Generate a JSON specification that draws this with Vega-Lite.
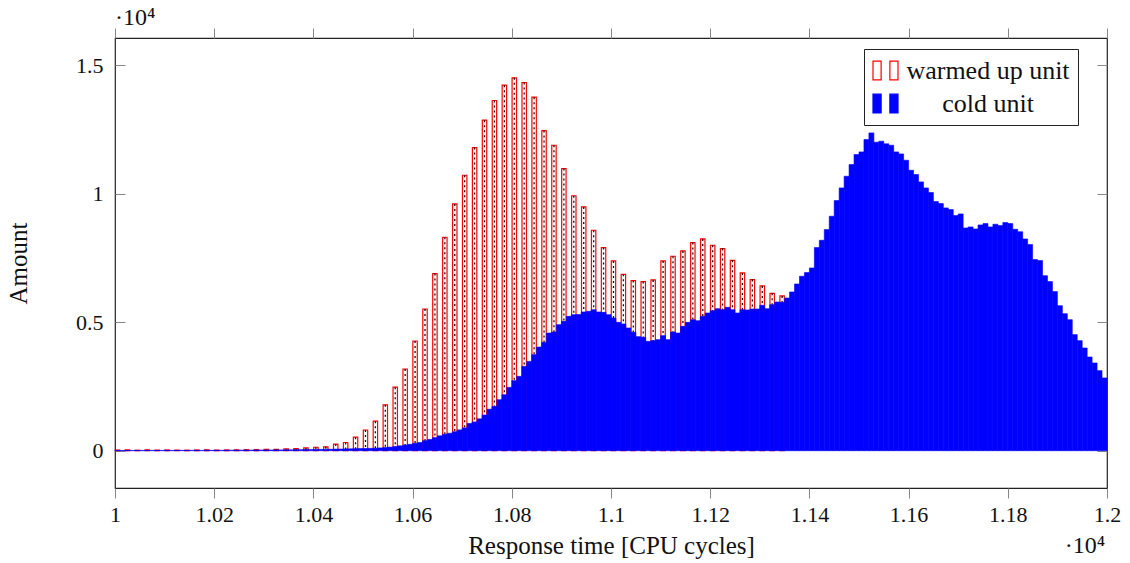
{
  "$schema": "https://vega.github.io/schema/vega-lite/v6.json",
  "width": 992,
  "height": 450,
  "autosize": {"type": "none"},
  "padding": {"left": 115, "top": 38, "right": 23, "bottom": 75},
  "background": "white",
  "config": {
    "view": {"stroke": "#222", "strokeWidth": 1.2},
    "font": "Liberation Serif",
    "axis": {"labelFont": "Liberation Serif", "titleFont": "Liberation Serif", "labelColor": "#111", "titleColor": "#111", "titleFontWeight": "normal", "tickColor": "#888", "tickWidth": 1, "domain": false, "grid": false}
  },
  "datasets": {
    "warm": [
      {"x":10005,"v":25},{"x":10025,"v":30},{"x":10045,"v":20},{"x":10065,"v":35},{"x":10085,"v":25},
      {"x":10105,"v":30},{"x":10125,"v":25},{"x":10145,"v":20},{"x":10165,"v":30},{"x":10185,"v":35},
      {"x":10205,"v":25},{"x":10225,"v":30},{"x":10245,"v":35},{"x":10265,"v":40},{"x":10285,"v":45},
      {"x":10305,"v":52},{"x":10325,"v":55},{"x":10345,"v":70},{"x":10365,"v":78},{"x":10385,"v":110},
      {"x":10405,"v":135},{"x":10425,"v":150},{"x":10445,"v":260},{"x":10465,"v":320},{"x":10485,"v":525},
      {"x":10505,"v":805},{"x":10525,"v":1150},{"x":10545,"v":1785},{"x":10565,"v":2470},{"x":10585,"v":3178},
      {"x":10605,"v":4267},{"x":10625,"v":5512},{"x":10645,"v":6887},{"x":10665,"v":8301},{"x":10685,"v":9598},
      {"x":10705,"v":10713},{"x":10725,"v":11790},{"x":10745,"v":12853},{"x":10765,"v":13619},{"x":10785,"v":14215},
      {"x":10805,"v":14500},{"x":10825,"v":14319},{"x":10845,"v":13748},{"x":10865,"v":12451},{"x":10885,"v":11880},
      {"x":10905,"v":10973},{"x":10925,"v":9915},{"x":10945,"v":9481},{"x":10965,"v":8573},{"x":10985,"v":7899},
      {"x":11005,"v":7380},{"x":11025,"v":6861},{"x":11045,"v":6615},{"x":11065,"v":6576},{"x":11085,"v":6641},
      {"x":11105,"v":7380},{"x":11125,"v":7562},{"x":11145,"v":7769},{"x":11165,"v":8093},{"x":11185,"v":8236},
      {"x":11205,"v":7990},{"x":11225,"v":7860},{"x":11245,"v":7405},{"x":11265,"v":6913},{"x":11285,"v":6654},
      {"x":11305,"v":6407},{"x":11325,"v":6122},{"x":11345,"v":6018}
    ],
    "cold": [
      {"x":10005,"v":15},{"x":10015,"v":10},{"x":10025,"v":12},{"x":10035,"v":8},{"x":10045,"v":10},
      {"x":10055,"v":12},{"x":10065,"v":10},{"x":10075,"v":14},{"x":10085,"v":10},{"x":10095,"v":12},
      {"x":10105,"v":15},{"x":10115,"v":12},{"x":10125,"v":10},{"x":10135,"v":14},{"x":10145,"v":12},
      {"x":10155,"v":15},{"x":10165,"v":14},{"x":10175,"v":12},{"x":10185,"v":16},{"x":10195,"v":15},
      {"x":10205,"v":18},{"x":10215,"v":15},{"x":10225,"v":18},{"x":10235,"v":20},{"x":10245,"v":18},
      {"x":10255,"v":22},{"x":10265,"v":20},{"x":10275,"v":24},{"x":10285,"v":22},{"x":10295,"v":26},
      {"x":10305,"v":25},{"x":10315,"v":28},{"x":10325,"v":30},{"x":10335,"v":30},{"x":10345,"v":33},
      {"x":10355,"v":35},{"x":10365,"v":38},{"x":10375,"v":40},{"x":10385,"v":42},{"x":10395,"v":45},
      {"x":10405,"v":48},{"x":10415,"v":50},{"x":10425,"v":55},{"x":10435,"v":58},{"x":10445,"v":62},
      {"x":10455,"v":66},{"x":10465,"v":70},{"x":10475,"v":74},{"x":10485,"v":78},{"x":10495,"v":84},
      {"x":10505,"v":88},{"x":10515,"v":92},{"x":10525,"v":98},{"x":10535,"v":108},{"x":10545,"v":125},
      {"x":10555,"v":140},{"x":10565,"v":165},{"x":10575,"v":190},{"x":10585,"v":220},{"x":10595,"v":250},
      {"x":10605,"v":290},{"x":10615,"v":320},{"x":10625,"v":390},{"x":10635,"v":440},{"x":10645,"v":510},
      {"x":10655,"v":580},{"x":10665,"v":640},{"x":10675,"v":680},{"x":10685,"v":740},{"x":10695,"v":810},
      {"x":10705,"v":890},{"x":10715,"v":1060},{"x":10725,"v":1120},{"x":10735,"v":1240},{"x":10745,"v":1390},
      {"x":10755,"v":1615},{"x":10765,"v":1725},{"x":10775,"v":1984},{"x":10785,"v":2179},{"x":10795,"v":2464},
      {"x":10805,"v":2724},{"x":10815,"v":2892},{"x":10825,"v":3281},{"x":10835,"v":3475},{"x":10845,"v":3735},
      {"x":10855,"v":4034},{"x":10865,"v":4215},{"x":10875,"v":4578},{"x":10885,"v":4617},{"x":10895,"v":4903},
      {"x":10905,"v":5031},{"x":10915,"v":5226},{"x":10925,"v":5292},{"x":10935,"v":5300},{"x":10945,"v":5396},
      {"x":10955,"v":5420},{"x":10965,"v":5486},{"x":10975,"v":5396},{"x":10985,"v":5381},{"x":10995,"v":5292},
      {"x":11005,"v":5163},{"x":11015,"v":4993},{"x":11025,"v":4929},{"x":11035,"v":4774},{"x":11045,"v":4604},
      {"x":11055,"v":4436},{"x":11065,"v":4410},{"x":11075,"v":4254},{"x":11085,"v":4280},{"x":11095,"v":4319},
      {"x":11105,"v":4475},{"x":11115,"v":4319},{"x":11125,"v":4618},{"x":11135,"v":4578},{"x":11145,"v":4837},
      {"x":11155,"v":4993},{"x":11165,"v":5097},{"x":11175,"v":5058},{"x":11185,"v":5226},{"x":11195,"v":5357},
      {"x":11205,"v":5447},{"x":11215,"v":5525},{"x":11225,"v":5486},{"x":11235,"v":5577},{"x":11245,"v":5486},
      {"x":11255,"v":5357},{"x":11265,"v":5486},{"x":11275,"v":5473},{"x":11285,"v":5512},{"x":11295,"v":5512},
      {"x":11305,"v":5655},{"x":11315,"v":5525},{"x":11325,"v":5681},{"x":11335,"v":5785},{"x":11345,"v":5772},
      {"x":11355,"v":5940},{"x":11365,"v":6174},{"x":11375,"v":6485},{"x":11385,"v":6783},{"x":11395,"v":6926},
      {"x":11405,"v":7108},{"x":11415,"v":7900},{"x":11425,"v":8184},{"x":11435,"v":8599},{"x":11445,"v":9118},
      {"x":11455,"v":9728},{"x":11465,"v":10221},{"x":11475,"v":10674},{"x":11485,"v":11128},{"x":11495,"v":11518},
      {"x":11505,"v":11621},{"x":11515,"v":12101},{"x":11525,"v":12360},{"x":11535,"v":11997},{"x":11545,"v":12036},
      {"x":11555,"v":11933},{"x":11565,"v":11880},{"x":11575,"v":11621},{"x":11585,"v":11543},{"x":11595,"v":11297},
      {"x":11605,"v":10907},{"x":11615,"v":10739},{"x":11625,"v":10454},{"x":11635,"v":10221},{"x":11645,"v":10040},
      {"x":11655,"v":9689},{"x":11665,"v":9611},{"x":11675,"v":9443},{"x":11685,"v":9377},{"x":11695,"v":9144},
      {"x":11705,"v":9209},{"x":11715,"v":8664},{"x":11725,"v":8703},{"x":11735,"v":8625},{"x":11745,"v":8781},
      {"x":11755,"v":8833},{"x":11765,"v":8703},{"x":11775,"v":8807},{"x":11785,"v":8755},{"x":11795,"v":8872},
      {"x":11805,"v":8833},{"x":11815,"v":8610},{"x":11825,"v":8515},{"x":11835,"v":8236},{"x":11845,"v":8016},
      {"x":11855,"v":7432},{"x":11865,"v":7393},{"x":11875,"v":6809},{"x":11885,"v":6576},{"x":11895,"v":6187},
      {"x":11905,"v":5642},{"x":11915,"v":5331},{"x":11925,"v":5097},{"x":11935,"v":4514},{"x":11945,"v":4280},
      {"x":11955,"v":3995},{"x":11965,"v":3645},{"x":11975,"v":3412},{"x":11985,"v":3113},{"x":11995,"v":2829}
    ]
  },
  "resolve": {"axis": {"x": "independent", "y": "independent"}},
  "layer": [
    {
      "data": {"name": "warm"},
      "mark": {"type": "bar", "orient": "vertical", "width": 4.4, "strokeWidth": 1.2},
      "encoding": {
        "x": {"field": "x", "type": "quantitative",
              "scale": {"domain": [10000, 12000], "nice": false, "zero": false, "padding": 0},
              "axis": {"orient": "bottom", "values": [10000,10200,10400,10600,10800,11000,11200,11400,11600,11800,12000],
                       "labelExpr": "format(datum.value/10000, '~g')", "labelFontSize": 22, "tickSize": 10, "labelPadding": 6,
                       "title": "Response time [CPU cycles]", "titleFontSize": 25, "titlePadding": 8, "labelFlush": false}},
        "y": {"field": "v", "type": "quantitative",
              "scale": {"domain": [-1450, 16050], "nice": false, "zero": false, "padding": 0},
              "axis": {"orient": "left", "values": [0, 5000, 10000, 15000],
                       "labelExpr": "format(datum.value/10000, '~g')", "labelFontSize": 22, "tickSize": -10, "labelPadding": 22,
                       "title": "Amount", "titleFontSize": 25, "titlePadding": 44}},
        "y2": {"datum": 0},
        "fill": {"datum": "warmed up unit", "type": "nominal",
                 "scale": {"domain": ["warmed up unit", "cold unit"], "range": ["white", "#0000ff"]},
                 "legend": {"orient": "none", "legendX": 749, "legendY": 11, "title": null,
                            "symbolType": "M-1,-0.75H-0.35V0.75H-1Z M0.35,-0.75H1V0.75H0.35Z",
                            "symbolSize": 625, "symbolStrokeWidth": 1.2,
                            "labelFont": "Liberation Serif", "labelFontSize": 26, "labelColor": "#111",
                            "labelAlign": "center", "labelOffset": 89, "labelLimit": 300,
                            "strokeColor": "#222", "fillColor": "white", "padding": 8, "rowPadding": 6,
                            "encode": {"symbols": {"update": {"stroke": {"signal": "datum.value === 'cold unit' ? '#0000ff' : '#ff0000'"}}}}}},
        "stroke": {"datum": "warmed up unit", "type": "nominal",
                   "scale": {"domain": ["warmed up unit", "cold unit"], "range": ["#ff0000", "#0000ff"]},
                   "legend": null}
      }
    },
    {
      "data": {"name": "warm"},
      "mark": {"type": "rule", "color": "#111", "strokeWidth": 1.3, "strokeDash": [2, 3]},
      "encoding": {
        "x": {"field": "x", "type": "quantitative", "axis": null},
        "y": {"field": "v", "type": "quantitative", "axis": null},
        "y2": {"datum": 0}
      }
    },
    {
      "data": {"name": "cold"},
      "mark": {"type": "bar", "orient": "vertical", "width": 4.96, "strokeWidth": 0.6},
      "encoding": {
        "x": {"field": "x", "type": "quantitative",
              "axis": {"orient": "top", "values": [10000,10200,10400,10600,10800,11000,11200,11400,11600,11800,12000],
                       "labels": false, "tickSize": 10, "title": null}},
        "y": {"field": "v", "type": "quantitative",
              "axis": {"orient": "right", "values": [0, 5000, 10000, 15000], "labels": false, "tickSize": -10, "title": null}},
        "y2": {"datum": 0},
        "fill": {"datum": "cold unit", "type": "nominal"},
        "stroke": {"datum": "cold unit", "type": "nominal"}
      }
    },
    {
      "data": {"values": [{"t": "·10⁴"}]},
      "mark": {"type": "text", "align": "left", "baseline": "bottom", "fontSize": 24, "font": "Liberation Serif", "color": "#111", "dx": 0, "dy": -8},
      "encoding": {
        "x": {"datum": 10000, "type": "quantitative", "axis": null},
        "y": {"datum": 16050, "type": "quantitative", "axis": null},
        "text": {"field": "t"}
      }
    },
    {
      "data": {"values": [{"t": "·10⁴"}]},
      "mark": {"type": "text", "align": "right", "baseline": "top", "fontSize": 24, "font": "Liberation Serif", "color": "#111", "dx": -2, "dy": 46},
      "encoding": {
        "x": {"datum": 12000, "type": "quantitative", "axis": null},
        "y": {"datum": -1450, "type": "quantitative", "axis": null},
        "text": {"field": "t"}
      }
    }
  ]
}
